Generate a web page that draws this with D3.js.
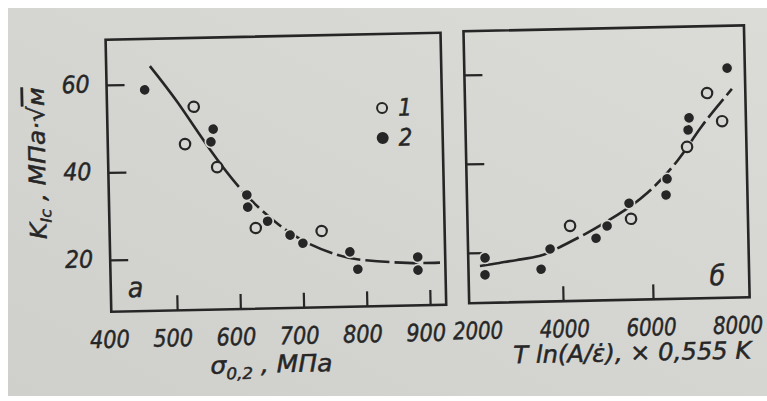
<!DOCTYPE html>
<html><head><meta charset="utf-8">
<script src="https://cdn.jsdelivr.net/npm/d3@7"></script>
<style>body{margin:0;background:#fff}svg{display:block}</style>
</head><body>
<svg id="chart" width="767" height="401"></svg>
<script>
// ---------- data ----------
const leftXTicks = [400, 500, 600, 700, 800, 900];
const leftYTicks = [20, 40, 60];
const leftOpen = [[533, 54.6], [518, 46.1], [568, 40.7], [627, 26.6], [731, 25.6]];
const leftFilled = [[456, 58.7], [563, 49.4], [559, 46.5], [614, 34.2], [615, 31.4], [646, 28.1],
                    [681, 24.8], [701, 22.9], [775, 20.7], [787, 16.7], [882, 19.2], [882, 16.2]];
const leftCurve = [[465, 64.1], [507, 55.8], [557, 44.8], [608, 35.0], [655, 28.3], [700, 23.6],
                   [754, 20.1], [800, 18.7], [865, 17.9], [917, 17.8]];

const rightXTicks = [2000, 4000, 6000, 8000];
const rightYTicks = [20, 40, 60];
const rightOpen = [[4191, 25.6], [5549, 26.9], [6827, 42.8], [7296, 54.8], [7618, 48.4]];
const rightFilled = [[2287, 18.8], [2278, 15.0], [3527, 16.0], [3736, 20.5], [4762, 22.7], [5013, 25.4],
                     [5511, 30.4], [6338, 32.1], [6367, 35.7], [6858, 46.6], [6884, 49.3], [7753, 60.3]];
const rightCurve = [[2170, 17.0], [2600, 17.6], [3000, 18.2], [3510, 19.0], [3960, 20.9], [4560, 23.9],
                    [5240, 27.8], [5920, 32.6], [6620, 39.9], [7150, 47.2], [7850, 55.6]];

const legendItems = [{label: "1", filled: false}, {label: "2", filled: true}];

// ---------- drawing ----------
const INK = "#262626", PAPER = "#d6d6d2";
const FONT = "'DejaVu Sans Condensed','DejaVu Sans','Liberation Sans',sans-serif";
const svg = d3.select("#chart");

const defs = svg.append("defs");
const grad = defs.append("linearGradient").attr("id", "paper")
  .attr("x1", "1").attr("y1", "0").attr("x2", "0").attr("y2", "1");
grad.append("stop").attr("offset", "0").attr("stop-color", "#dbdbd7");
grad.append("stop").attr("offset", "1").attr("stop-color", "#cfcfcb");
svg.append("rect").attr("x", 8).attr("y", 8).attr("width", 759).attr("height", 388).attr("fill", "url(#paper)");

const root = svg.append("g")
  .attr("transform", "rotate(-1.2,383,200)")
  .style("font-family", FONT).style("font-style", "italic")
  .attr("fill", INK).attr("stroke", INK).attr("stroke-width", 0.45);

function styleText(sel, size, perChar) {
  sel.attr("fill", INK).attr("stroke", INK).attr("stroke-width", 0.45)
    .style("font-size", size + "px").style("font-family", FONT).style("font-style", "italic")
    .attr("textLength", function () { return this.textContent.length * perChar; })
    .attr("lengthAdjust", "spacingAndGlyphs");
}

function panel(opt) {
  const g = root.append("g");
  const x = d3.scaleLinear().domain(opt.xDomain).range(opt.xRange);
  const y = d3.scaleLinear().domain([20, 60]).range(opt.yRange);
  g.append("rect").attr("x", opt.frame[0]).attr("y", opt.frame[1])
    .attr("width", opt.frame[2] - opt.frame[0]).attr("height", opt.frame[3] - opt.frame[1])
    .attr("fill", "none").attr("stroke", INK).attr("stroke-width", 2.6);
  const ya = g.append("g").attr("transform", `translate(${opt.frame[0]},0)`)
    .call(d3.axisLeft(y).tickValues(opt.yTicks).tickSize(-18).tickFormat(opt.yLabels ? d3.format("d") : () => ""));
  ya.select(".domain").remove();
  ya.selectAll(".tick line").attr("stroke", INK).attr("stroke-width", 2.2);
  ya.selectAll(".tick text").attr("x", -17).attr("dy", "0.28em").call(styleText, 24, 14);
  const xa = g.append("g").attr("transform", `translate(0,${opt.frame[3]})`)
    .call(d3.axisBottom(x).tickValues(opt.xTicks).tickSize(-15).tickFormat(d3.format("d")));
  xa.select(".domain").remove();
  xa.selectAll(".tick line").attr("stroke", INK).attr("stroke-width", 2.2)
    .filter(d => !opt.xTickMarks.includes(d)).remove();
  xa.selectAll(".tick text").attr("y", 36).attr("dy", 0).attr("dx", opt.labelDx).call(styleText, 24, opt.perChar);
  const line = d3.line().x(d => x(d[0])).y(d => y(d[1])).curve(d3.curveNatural);
  const path = g.append("path").datum(opt.curve).attr("d", line)
    .attr("fill", "none").attr("stroke", INK).attr("stroke-width", 2.6).attr("stroke-linecap", "butt");
  // broken-line look of the printed curve: solid start, then long dashes
  const total = path.node().getTotalLength();
  const dashes = [opt.solidLen];
  let acc = opt.solidLen;
  while (acc < total + 40) { dashes.push(5, 24); acc += 29; }
  path.attr("stroke-dasharray", dashes.join(","));
  g.selectAll(".op").data(opt.open).join("circle")
    .attr("cx", d => x(d[0])).attr("cy", d => y(d[1])).attr("r", 5.2)
    .attr("fill", PAPER).attr("stroke", INK).attr("stroke-width", 2.2);
  g.selectAll(".fp").data(opt.filled).join("circle")
    .attr("cx", d => x(d[0])).attr("cy", d => y(d[1])).attr("r", 5.6)
    .attr("fill", INK).attr("stroke", PAPER).attr("stroke-width", 1.6);
  g.append("text").attr("x", opt.tag[0]).attr("y", opt.tag[1]).text(opt.tag[2]).style("font-size", "28px");
  return {g, x, y};
}

panel({
  xDomain: [400, 900], xRange: [111.6, 427.9], yRange: [254.2, 79.2],
  frame: [109, 34, 444, 306], xTicks: leftXTicks, xTickMarks: [500, 600, 700, 800, 900],
  yTicks: leftYTicks, yLabels: true, labelDx: -5, perChar: 13.2, solidLen: 150,
  curve: leftCurve, open: leftOpen, filled: leftFilled, tag: [126, 292, "а"]
});
panel({
  xDomain: [2000, 8000], xRange: [470.9, 740.9], yRange: [254.7, 76.7],
  frame: [467, 33, 747.5, 305], xTicks: rightXTicks, xTickMarks: [4000, 6000],
  yTicks: rightYTicks, yLabels: false, labelDx: d => 4 - (d - 2000) / 600, perChar: 12.5, solidLen: 75,
  curve: rightCurve, open: rightOpen, filled: rightFilled, tag: [708, 292, "б"]
});

// legend
const lg = root.append("g");
lg.selectAll("circle").data(legendItems).join("circle")
  .attr("cx", 384).attr("cy", (d, i) => 108 + i * 30).attr("r", 5)
  .attr("fill", d => d.filled ? INK : PAPER).attr("stroke", INK).attr("stroke-width", 2);
lg.selectAll("text").data(legendItems).join("text")
  .attr("x", 400).attr("y", (d, i) => 116 + i * 30).text(d => d.label).style("font-size", "24px");

// axis titles
const yt = root.append("text").attr("transform", "translate(46,156) rotate(-90)")
  .attr("text-anchor", "middle").style("font-size", "23px")
  .attr("textLength", 152).attr("lengthAdjust", "spacingAndGlyphs");
yt.append("tspan").text("K");
yt.append("tspan").attr("dy", 5).style("font-size", "15px").text("Ic");
yt.append("tspan").attr("dy", -5).text(" , МПа·√");
yt.append("tspan").style("text-decoration", "overline").text("м");

const xt1 = root.append("text").attr("x", 268).attr("y", 370).attr("text-anchor", "middle").style("font-size", "24px")
  .attr("textLength", 122).attr("lengthAdjust", "spacingAndGlyphs");
xt1.append("tspan").text("σ");
xt1.append("tspan").attr("dy", 6).style("font-size", "16px").text("0,2");
xt1.append("tspan").attr("dy", -6).text(" ,  МПа");

root.append("text").attr("x", 629).attr("y", 366).attr("text-anchor", "middle").style("font-size", "24px")
  .attr("textLength", 238).attr("lengthAdjust", "spacingAndGlyphs")
  .text("T  ln(A/ε̇), × 0,555 K");
</script>
</body></html>
